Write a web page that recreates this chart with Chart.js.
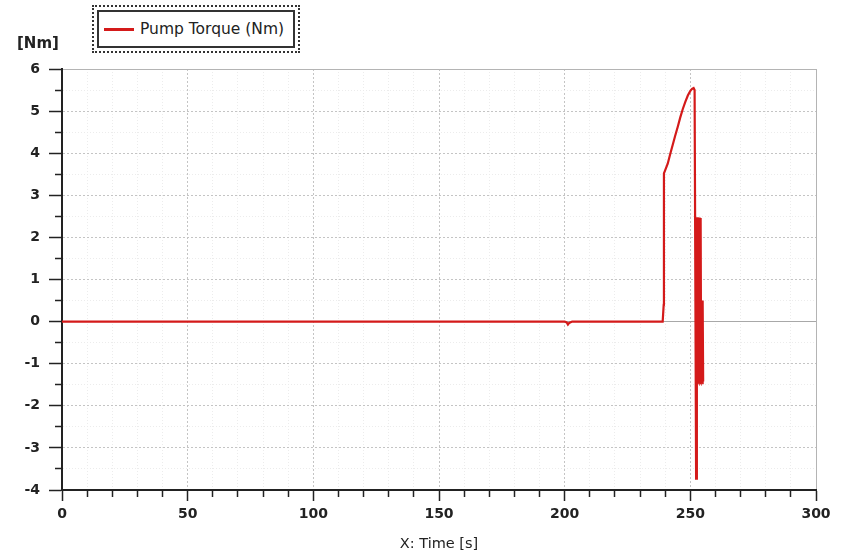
<!DOCTYPE html>
<html>
<head>
<meta charset="utf-8">
<script src="https://cdn.jsdelivr.net/npm/chart.js@4"></script>
<style>
  body { margin: 0; background: #fff; }
  #wrap { position: relative; width: 846px; height: 557px; }
  #unit { position: absolute; left: 17px; top: 34px; font: bold 15px "DejaVu Sans"; color: #222; }
  #legend { position: absolute; left: 92px; top: 5px; width: 208px; height: 48px; border: 2px dotted #333; box-sizing: border-box; padding: 3px; background: #fff; }
  #legend .inner { border: 2px solid #333; height: 100%; box-sizing: border-box; display: flex; align-items: center; padding-left: 5px; font: 15.5px "DejaVu Sans"; color: #222; white-space: nowrap; }
  #legend .swatch { width: 30px; height: 3px; background: #d41a1a; margin-right: 6px; }
</style>
</head>
<body>
<div id="wrap">
  <canvas id="torqueChart"></canvas>
  <div id="unit">[Nm]</div>
  <div id="legend"><div class="inner"><span class="swatch"></span>Pump Torque (Nm)</div></div>
</div>
<script>
// time in seconds, torque in Nm
const time = [0, 200, 200.8, 201.3, 201.8, 203, 239.0, 239.4, 239.5,
  241, 242, 243, 244, 245, 246, 247, 248, 249, 250, 250.7, 251.3, 251.7, 252.3,
  252.6, 252.7, 252.8, 252.9, 253.0, 253.1, 253.2, 253.3, 253.4, 253.5, 253.6, 253.7,
  253.8, 253.9, 254.0, 254.1, 254.2, 254.3, 254.4, 254.5, 254.6, 254.7, 254.8, 254.9, 255.0, 255.1];
const torque = [0, 0, -0.02, -0.07, -0.03, 0, 0, 0.4, 3.52,
  3.75, 3.98, 4.2, 4.42, 4.63, 4.85, 5.05, 5.22, 5.37, 5.48, 5.53, 5.55, 5.5, -3.73,
  2.48, -1.44, 2.48, -1.44, 2.45, -1.42, 2.46, -1.44, 2.44, -1.43, 2.47, -1.44,
  2.45, -1.42, 2.46, -1.44, 2.44, -1.43, 0.5, -1.44, 0.5, -1.43, 0.49, -1.44, 0.5, -1.42];
const seriesLabel = 'Pump Torque (Nm)';
const xTitle = 'X: Time [s]';

const points = time.map((t, i) => ({ x: t, y: torque[i] }));

const tickFont = { family: 'DejaVu Sans', size: 14, weight: 'bold' };

new Chart(document.getElementById('torqueChart'), {
  type: 'line',
  data: {
    datasets: [{
      label: seriesLabel,
      data: points,
      borderColor: '#d41a1a',
      borderWidth: 2.2,
      pointRadius: 0,
      tension: 0
    }]
  },
  options: {
    responsive: true,
    maintainAspectRatio: false,
    animation: false,
    layout: { padding: { top: 69, right: 30, left: 0, bottom: 0 } },
    plugins: { legend: { display: false }, tooltip: { enabled: false } },
    scales: {
      x: {
        type: 'linear',
        min: 0,
        max: 300,
        afterFit: s => { s.height = 67; },
        ticks: {
          stepSize: 10,
          autoSkip: false,
          maxRotation: 0,
          padding: 5,
          color: '#222',
          font: tickFont,
          callback: v => (v % 50 === 0 ? v : '')
        },
        grid: {
          tickLength: 11,
          tickColor: '#222',
          tickWidth: 1.5,
          tickBorderDash: c => (c.tick && c.tick.value % 50 !== 0 ? [6, 100] : []),
          color: c => {
            if (!c.tick) return '#ccc';
            if (c.tick.value === 300) return '#b4b4b4';
            return c.tick.value % 50 === 0 ? '#c4c4c4' : '#ececec';
          }
        },
        border: {
          color: '#222',
          width: 2,
          dash: c => {
            if (!c.tick || c.tick.value === 300) return [];
            return c.tick.value % 50 === 0 ? [2, 2] : [1, 2];
          }
        },
        title: {
          display: true,
          text: xTitle,
          color: '#222',
          font: { family: 'DejaVu Sans', size: 14.5 },
          padding: { top: 4, bottom: 4 }
        }
      },
      y: {
        min: -4,
        max: 6,
        afterFit: s => { s.width = 62; },
        ticks: {
          stepSize: 0.5,
          autoSkip: false,
          padding: 9,
          color: '#222',
          font: tickFont,
          callback: v => (Number.isInteger(v) ? v : '')
        },
        grid: {
          tickLength: 13,
          tickColor: '#222',
          tickWidth: 1.5,
          tickBorderDash: c => (c.tick && !Number.isInteger(c.tick.value) ? [0, 6, 7, 100] : []),
          color: c => {
            if (!c.tick) return '#ccc';
            if (c.tick.value === 0) return '#a8a8a8';
            if (c.tick.value === 6) return '#b4b4b4';
            return Number.isInteger(c.tick.value) ? '#c4c4c4' : '#ececec';
          }
        },
        border: {
          color: '#222',
          width: 2,
          dash: c => {
            if (!c.tick || c.tick.value === 0 || c.tick.value === 6) return [];
            return Number.isInteger(c.tick.value) ? [2, 2] : [1, 2];
          }
        }
      }
    }
  }
});
</script>
</body>
</html>
